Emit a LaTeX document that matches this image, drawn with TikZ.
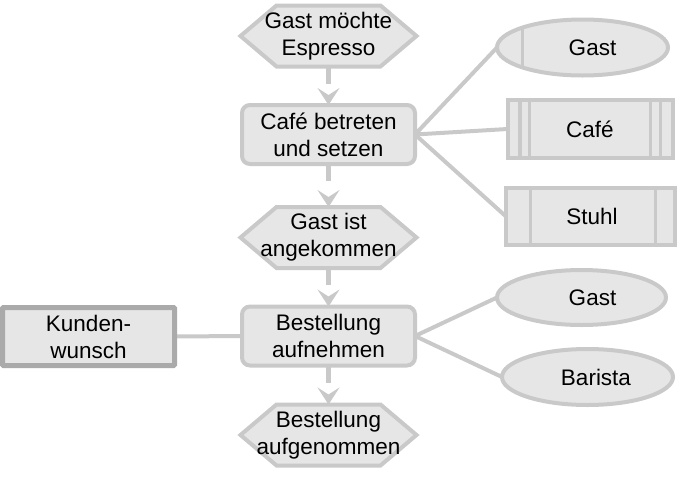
\documentclass[tikz,border=0pt]{standalone}
\usepackage{fontspec}
\setmainfont{Liberation Sans}
\usetikzlibrary{arrows.meta,shapes.geometric,backgrounds,calc}
\definecolor{lc}{HTML}{C9C9C9}
\definecolor{fc}{HTML}{E6E6E6}
\definecolor{dc}{HTML}{AAAAAA}
\newcommand\txtfont{\fontsize{22.5}{27}\selectfont}
\newcommand\drawhexagon[1]{%
  \draw[hexline] (#1.west) -- ([xshift=36pt]#1.north west) -- ([xshift=-36pt]#1.north east)
    -- (#1.east) -- ([xshift=-36pt]#1.south east) -- ([xshift=36pt]#1.south west) -- cycle;}
\tikzset{
  mainbox/.style={draw=lc, fill=fc, line width=4pt, rounded corners=8pt,
    minimum width=173pt, minimum height=59pt, inner sep=0pt, outer sep=0pt,
    align=center, font=\txtfont},
  hexnode/.style={minimum width=176pt, minimum height=61pt, inner sep=0pt,
    outer sep=0pt, align=center, font=\txtfont},
  hexline/.style={draw=lc, fill=fc, line width=4pt},
  kwbox/.style={draw=dc, fill=fc, line width=5pt, rounded corners=1pt,
    minimum width=172pt, minimum height=58pt, inner sep=0pt, outer sep=0pt,
    align=center, font=\txtfont},
  ent/.style={draw=lc, fill=fc, line width=4pt, ellipse, inner sep=0pt,
    outer sep=0pt, font=\txtfont},
  res/.style={draw=lc, fill=fc, line width=4pt, rectangle, inner sep=0pt,
    outer sep=0pt, font=\txtfont},
  stripe/.style={draw=lc, line width=3.5pt},
  conn/.style={draw=lc, line width=4pt},
  arr/.style={draw=lc, line width=4.5pt, dash pattern=on 17pt off 200pt,
    -{Stealth[length=17pt,width=22pt,inset=7pt]}},
}
\begin{document}
\begin{tikzpicture}[x=1pt,y=-1pt]
\useasboundingbox (0,0) rectangle (681,477);
% main column
\node[hexnode] (h1) at (328.5,36) {Gast möchte\\Espresso};
\node[mainbox] (cafe) at (328.5,134.5) {Café betreten\\und setzen};
\node[hexnode] (h2) at (328.5,237.5) {Gast ist\\angekommen};
\node[mainbox] (best) at (328.5,336) {Bestellung\\aufnehmen};
\node[hexnode] (h3) at (328.5,435) {Bestellung\\aufgenommen};
% left
\node[kwbox] (kw) at (88.5,336.5) {Kunden-\\wunsch};
% right
\node[ent, minimum width=171pt, minimum height=56pt,
  label={[font=\txtfont,xshift=10pt]center:Gast}] (g1) at (582.5,47.5) {};
\node[res, minimum width=165pt, minimum height=58pt] (c2) at (590,129) {Café};
\node[res, minimum width=169pt, minimum height=57pt,
  label={[font=\txtfont,xshift=2pt]center:Stuhl}] (st) at (590,216) {};
\node[ent, minimum width=169pt, minimum height=55pt,
  label={[font=\txtfont,xshift=11pt]center:Gast}] (g2) at (581.5,297.5) {};
\node[ent, minimum width=171pt, minimum height=56pt,
  label={[font=\txtfont,xshift=8.5pt]center:Barista}] (ba) at (587.5,377) {};
% stripes
\begin{scope}
  \clip (g1.center) ellipse [x radius=85pt, y radius=27.5pt];
  \draw[stripe] ([xshift=-60pt]g1.center) -- +(0,-40) ([xshift=-60pt]g1.center) -- +(0,40);
\end{scope}
\draw[stripe] ([xshift=12.5pt]c2.north west) -- ([xshift=12.5pt]c2.south west);
\draw[stripe] ([xshift=22pt]c2.north west) -- ([xshift=22pt]c2.south west);
\draw[stripe] ([xshift=-22pt]c2.north east) -- ([xshift=-22pt]c2.south east);
\draw[stripe] ([xshift=-12pt]c2.north east) -- ([xshift=-12pt]c2.south east);
\draw[stripe] ([xshift=25pt]st.north west) -- ([xshift=25pt]st.south west);
\draw[stripe] ([xshift=-19pt]st.north east) -- ([xshift=-19pt]st.south east);
\begin{pgfonlayer}{background}
  \drawhexagon{h1}
  \drawhexagon{h2}
  \drawhexagon{h3}
  \draw[conn] (cafe.east) -- (g1.west);
  \draw[conn] (cafe.east) -- (c2.west);
  \draw[conn] (cafe.east) -- (st.west);
  \draw[conn] (best.east) -- (g2.west);
  \draw[conn] (best.east) -- (ba.west);
  \draw[conn] (kw.east) -- (best.west);
\end{pgfonlayer}
% arrows
\draw[arr] (h1.south) -- (cafe.north);
\draw[arr] (cafe.south) -- (h2.north);
\draw[arr] (h2.south) -- (best.north);
\draw[arr] (best.south) -- (h3.north);
\end{tikzpicture}
\end{document}
